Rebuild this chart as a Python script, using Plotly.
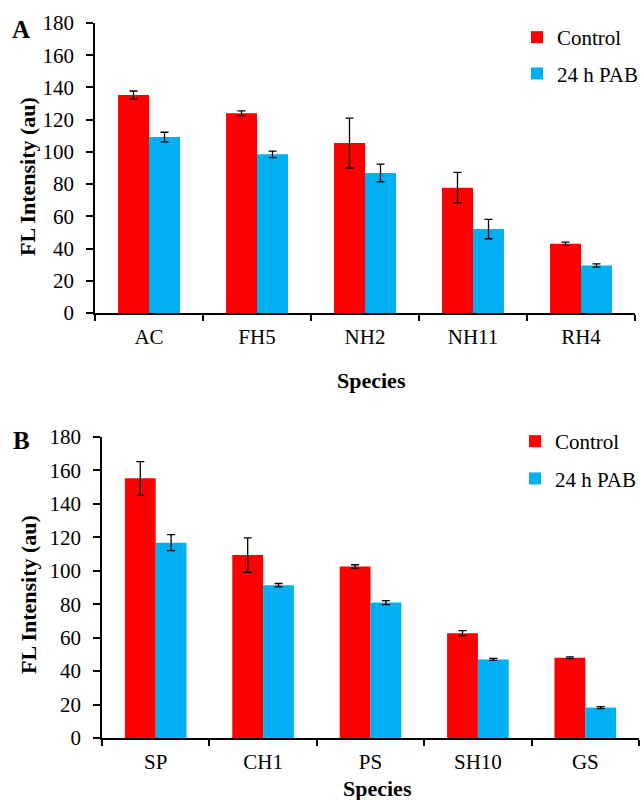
import plotly.graph_objects as go

cats_a = ["AC", "FH5", "NH2", "NH11", "RH4"]
ctrl_a = [135.3, 124.0, 105.5, 77.8, 43.0]
ctrl_a_err = [2.5, 1.5, 15.5, 9.5, 1.0]
pab_a = [109.2, 98.5, 86.9, 52.1, 29.5]
pab_a_err = [3.0, 2.0, 5.5, 6.0, 1.0]

cats_b = ["SP", "CH1", "PS", "SH10", "GS"]
ctrl_b = [155.3, 109.4, 102.6, 62.7, 48.0]
ctrl_b_err = [10.0, 10.3, 1.0, 1.5, 0.5]
pab_b = [116.8, 91.4, 81.0, 47.0, 18.2]
pab_b_err = [4.8, 1.0, 1.2, 0.6, 0.6]

RED = "#FF0000"
BLUE = "#00B0F0"
FONT = "Liberation Serif, Times New Roman, serif"

fig = go.Figure()

def err(v):
    return dict(type="data", array=v, visible=True, color="black", thickness=1.3, width=4)

fig.add_trace(go.Bar(x=cats_a, y=ctrl_a, error_y=err(ctrl_a_err), name="Control",
                     marker=dict(color=RED, line=dict(width=0)), xaxis="x", yaxis="y",
                     legend="legend", legendgroup="a1"))
fig.add_trace(go.Bar(x=cats_a, y=pab_a, error_y=err(pab_a_err), name="24 h PAB",
                     marker=dict(color=BLUE, line=dict(width=0)), xaxis="x", yaxis="y",
                     legend="legend", legendgroup="a2"))
fig.add_trace(go.Bar(x=cats_b, y=ctrl_b, error_y=err(ctrl_b_err), name="Control",
                     marker=dict(color=RED, line=dict(width=0)), xaxis="x2", yaxis="y2",
                     legend="legend2", legendgroup="b1"))
fig.add_trace(go.Bar(x=cats_b, y=pab_b, error_y=err(pab_b_err), name="24 h PAB",
                     marker=dict(color=BLUE, line=dict(width=0)), xaxis="x2", yaxis="y2",
                     legend="legend2", legendgroup="b2"))

W, H = 642, 800
dom_ax = [95 / W, 635 / W]
dom_ay = [1 - 313 / H, 1 - 23 / H]
dom_bx = [102 / W, 639 / W]
dom_by = [1 - 738 / H, 1 - 437 / H]

tickfont = dict(family=FONT, size=21, color="black")

def xax(dom, anchor):
    return dict(domain=dom, anchor=anchor, type="category", showline=True, linecolor="black",
                linewidth=2, ticks="outside", tickson="boundaries", ticklen=6, tickwidth=1.5,
                tickcolor="black", tickfont=tickfont, showgrid=False, zeroline=False,
                range=[-0.5, 4.5], automargin=False, ticklabelstandoff=4)

def yax(dom, anchor):
    return dict(domain=dom, anchor=anchor, range=[0, 180], dtick=20, showline=True,
                linecolor="black", linewidth=1.8, ticks="outside", ticklen=7, tickwidth=1.5,
                tickcolor="black", tickfont=tickfont, showgrid=False, zeroline=False,
                automargin=False, ticklabelstandoff=8)

def overlay(dom, anchor, over):
    return dict(domain=dom, anchor=anchor, overlaying=over, range=[-0.5, 4.5],
                tickvals=[0, 1, 2, 3, 4], showticklabels=False, ticks="outside", ticklen=5,
                tickwidth=1.5, tickcolor="black", showline=False, showgrid=False,
                zeroline=False, side="bottom", automargin=False)

legfont = dict(family=FONT, size=21, color="black")

fig.update_layout(
    width=W, height=H, margin=dict(l=0, r=0, t=0, b=0, autoexpand=False),
    font=dict(family=FONT, color="black"),
    paper_bgcolor="white", plot_bgcolor="white",
    barmode="group", bargap=0.426, bargroupgap=0,
    xaxis=xax(dom_ax, "y"), yaxis=yax(dom_ay, "x"),
    xaxis2=xax(dom_bx, "y2"), yaxis2=yax(dom_by, "x2"),
    xaxis3=overlay(dom_ax, "y", "x"),
    xaxis4=overlay(dom_bx, "y2", "x2"),
    legend=dict(x=517 / W, y=1 - 17 / H, xanchor="left", yanchor="top", font=legfont,
                bgcolor="rgba(0,0,0,0)", traceorder="grouped", tracegroupgap=6,
                itemwidth=30),
    legend2=dict(x=515 / W, y=1 - 421 / H, xanchor="left", yanchor="top", font=legfont,
                 bgcolor="rgba(0,0,0,0)", traceorder="grouped", tracegroupgap=7,
                 itemwidth=30),
    showlegend=True,
)

bold = dict(family=FONT, size=22, color="black")
ann = [
    dict(text="<b>A</b>", x=21 / W, y=1 - 30 / H, font=dict(family=FONT, size=25, color="black")),
    dict(text="<b>B</b>", x=22 / W, y=1 - 440 / H, font=dict(family=FONT, size=25, color="black")),
    dict(text="<b>FL Intensity (au)</b>", x=28 / W, y=1 - 177 / H, textangle=-90, font=bold),
    dict(text="<b>FL Intensity (au)</b>", x=28 / W, y=1 - 595 / H, textangle=-90, font=bold),
    dict(text="<b>Species</b>", x=371 / W, y=1 - 380 / H, font=bold),
    dict(text="<b>Species</b>", x=378 / W, y=1 - 788 / H, font=bold),
]
for a in ann:
    a.update(xref="paper", yref="paper", showarrow=False, xanchor="center", yanchor="middle")
fig.update_layout(annotations=ann)

fig.write_html("out.html", config={"displayModeBar": False},
               post_script="document.body.style.margin='0';document.body.style.padding='0';")
